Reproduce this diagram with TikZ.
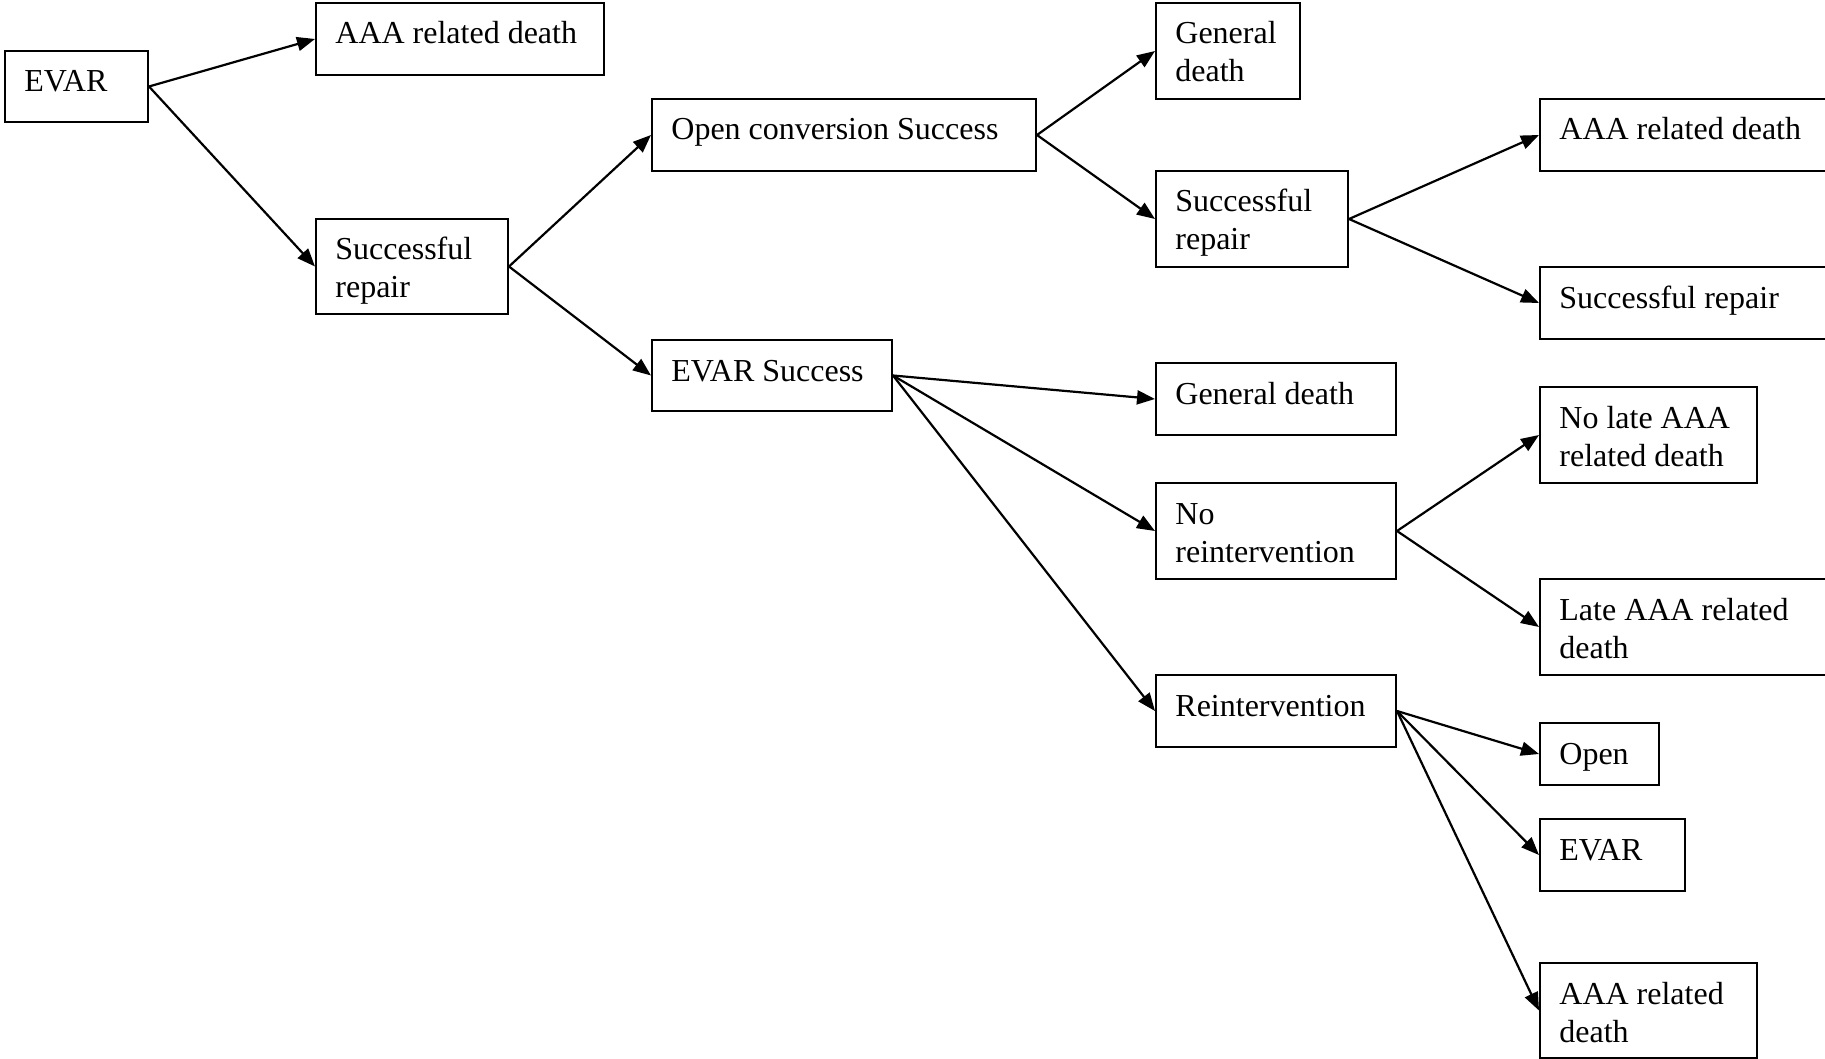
\documentclass[tikz,border=0pt]{standalone}
\usepackage{fontspec}
\setmainfont{Liberation Serif}
\usetikzlibrary{arrows.meta}
\newcommand\bx[6]{%
  \node[boxst, minimum width=#4*0.5pt, minimum height=#5*0.5pt] (#1) at (#2,#3) {};
  \node[lbl] (#1t) at (#2+20,#3+42) {\begin{tabular}[t]{@{}l@{}}#6\end{tabular}};
}
\begin{document}
\begin{tikzpicture}[x=0.5pt,y=-0.5pt,
  boxst/.style={draw=black, line width=1pt, rectangle, inner sep=0pt, anchor=north west},
  lbl/.style={anchor=base west, inner sep=0pt, font=\fontsize{16}{19}\selectfont},
  arr/.style={line width=1.1pt, -{Triangle[length=9pt,width=7pt]}}]
\useasboundingbox (0,0) rectangle (1825,1059);
\bx{evar}{4}{50}{143}{71}{EVAR}
\bx{aaa1}{315}{2}{288}{72}{AAA related death}
\bx{sr1}{315}{218}{192}{95}{Successful\\repair}
\bx{ocs}{651}{98}{384}{72}{Open conversion Success}
\bx{evs}{651}{339}{240}{71}{EVAR Success}
\bx{gd1}{1155}{2}{144}{96}{General\\death}
\bx{sr2}{1155}{170}{192}{96}{Successful\\repair}
\bx{gd2}{1155}{362}{240}{72}{General death}
\bx{nor}{1155}{482}{240}{96}{No\\reintervention}
\bx{rei}{1155}{674}{240}{72}{Reintervention}
\bx{aaa2}{1539}{98}{290}{72}{AAA related death}
\bx{sr3}{1539}{266}{290}{72}{Successful repair}
\bx{nolate}{1539}{386}{217}{96}{No late AAA\\related death}
\bx{late}{1539}{578}{290}{96}{Late AAA related\\death}
\bx{open}{1539}{722}{119}{62}{Open}
\bx{evar2}{1539}{818}{145}{72}{EVAR}
\bx{aaa3}{1539}{962}{217}{95}{AAA related\\death}
\draw[arr] (evar.east) -- (aaa1.west);
\draw[arr] (evar.east) -- (sr1.west);
\draw[arr] (sr1.east) -- (ocs.west);
\draw[arr] (sr1.east) -- (evs.west);
\draw[arr] (ocs.east) -- (gd1.west);
\draw[arr] (ocs.east) -- (sr2.west);
\draw[arr] (sr2.east) -- (aaa2.west);
\draw[arr] (sr2.east) -- (sr3.west);
\draw[arr] (evs.east) -- (gd2.west);
\draw[arr] (evs.east) -- (nor.west);
\draw[arr] (evs.east) -- (rei.west);
\draw[arr] (nor.east) -- (nolate.west);
\draw[arr] (nor.east) -- (late.west);
\draw[arr] (rei.east) -- (open.west);
\draw[arr] (rei.east) -- (evar2.west);
\draw[arr] (rei.east) -- (aaa3.west);
\end{tikzpicture}
\end{document}
